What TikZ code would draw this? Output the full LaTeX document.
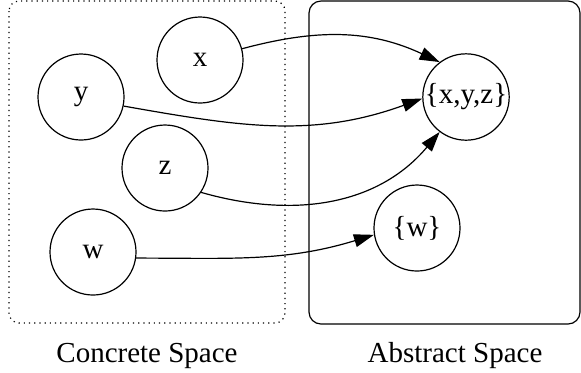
\documentclass[tikz,border=0pt]{standalone}
\usepackage{fontspec}
\setmainfont{Liberation Serif}
\usetikzlibrary{arrows.meta}
\begin{document}
\begin{tikzpicture}[x=0.5pt, y=-0.5pt, line width=0.6pt,
    elem/.style={draw, circle, minimum size=43pt, inner sep=0pt, font=\fontsize{14.5}{17}\selectfont},
    caption/.style={anchor=base, font=\fontsize{14.5}{17}\selectfont},
    maps/.style={-{Triangle[length=10pt, width=6.5pt]}}]
    \useasboundingbox (0,0) rectangle (581,372);
    % the two spaces
    \draw[dotted, rounded corners=5pt] (9,1) rectangle (285,323);
    \draw[rounded corners=6pt] (309,1) rectangle (580,324);
    \node[caption](concrete)at(147,362){Concrete Space};
    \node[caption](abstract)at(455,362){Abstract Space};
    % concrete elements
    \node[elem](x)at(200,60){x};
    \node[elem](y)at(81,97){y};
    \node[elem](z)at(165,168){z};
    \node[elem](w)at(93,252){w};
    % abstract elements
    \node[elem](xyz)at(466,97){\{x,y,z\}};
    \node[elem](wset)at(417,228){\{w\}};
    % abstraction
    \draw[maps](x.15)to[out=15,in=155](xyz.127);
    \draw[maps](y.-12)to[out=-10,in=200](xyz.182);
    \draw[maps](z.-34)to[out=-16,in=230](xyz.233);
    \draw[maps](w.-8)to[out=0,in=197](wset.189);
\end{tikzpicture}
\end{document}
